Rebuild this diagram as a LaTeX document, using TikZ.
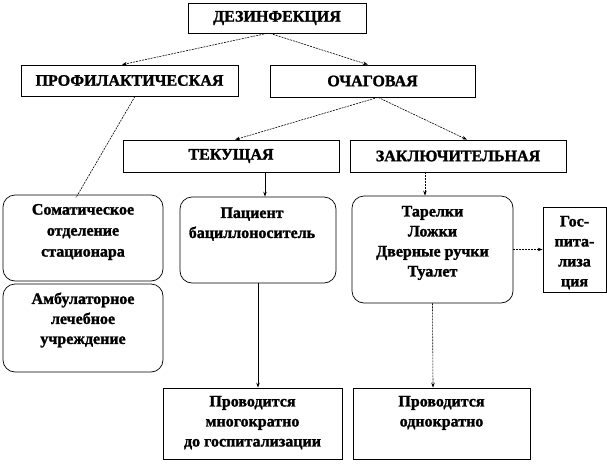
\documentclass[tikz,border=0pt]{standalone}
\usepackage{fontspec}
\setmainfont{Liberation Serif}[BoldFeatures={FakeBold=1.5}]
\usetikzlibrary{arrows.meta}
\newcommand\mybox[4]{\parbox[c][#2pt][t]{#1pt}{\centering\vspace*{#3pt}#4\par}}
\begin{document}
\begin{tikzpicture}[x=1pt,y=-1pt,
 bx/.style={draw, line width=0.7pt, inner sep=0pt, font=\fontsize{16}{20}\selectfont\bfseries},
 rbx/.style={bx, rounded corners=12pt},
 conn/.style={line width=0.6pt, dash pattern=on 2pt off 1pt},
 solidc/.style={line width=0.7pt},
 arr/.style={-{Stealth[length=5pt,width=3.5pt]}},
]
\useasboundingbox (0,0) rectangle (607,463);

\node[bx, minimum width=178pt, minimum height=30pt] (dez) at (277,18) {ДЕЗИНФЕКЦИЯ};
\node[bx, minimum width=217pt, minimum height=31pt] (prof) at (129.5,80.5) {ПРОФИЛАКТИЧЕСКАЯ};
\node[bx, minimum width=205pt, minimum height=32pt] (ochag) at (372.5,81) {ОЧАГОВАЯ};
\node[bx, minimum width=216pt, minimum height=32pt] (tek) at (231,156) {ТЕКУЩАЯ};
\node[bx, minimum width=216pt, minimum height=32pt] (zakl) at (458,156) {ЗАКЛЮЧИТЕЛЬНАЯ};

\node[rbx] (somat) at (83,238) {\mybox{160}{86}{9}{Соматическое\\[1pt]отделение\\[1pt]стационара}};
\node[rbx] (ambul) at (83,328) {\mybox{160}{88}{8.5}{Амбулаторное\\лечебное\\учреждение}};
\node[rbx] (pac) at (258,240) {\mybox{156}{86}{10.5}{\hspace*{-12pt}Пациент\\\hspace*{-12pt}бациллоноситель}};
\node[rbx] (tar) at (432.5,249.5) {\mybox{161}{107}{10}{Тарелки\\Ложки\\Дверные ручки\\Туалет}};
\node[bx] (gos) at (574.5,249.5) {\mybox{63}{85}{9}{Гос-\\пита-\\лиза\\ция}};
\node[bx] (mnog) at (252.5,423.5) {\mybox{179}{71}{8}{Проводится\\многократно\\до госпитализации}};
\node[bx] (odno) at (441.5,423.5) {\mybox{177}{71}{8}{Проводится\\однократно}};

\draw[conn,arr] ([xshift=-10pt]dez.south) -- ([xshift=-7.5pt]prof.north);
\draw[conn,arr] ([xshift=-7pt]dez.south) -- ([xshift=-4.5pt]ochag.north);
\draw[conn,arr] ([xshift=5.5pt]ochag.south) -- ([xshift=4pt]tek.north);
\draw[conn,arr] ([xshift=5.5pt]ochag.south) -- ([xshift=9pt]zakl.north);
\draw[conn] ([xshift=5.5pt]prof.south) -- ([xshift=-7pt,yshift=-3pt]somat.north);
\draw[solidc,arr] ([xshift=34pt]tek.south) -- ([xshift=7pt]pac.north);
\draw[conn,arr] ([xshift=-33pt]zakl.south) -- ([xshift=-7.5pt]tar.north);
\draw[conn,arr] (tar.east) -- (gos.west);
\draw[solidc,arr] (pac.south) -- ([xshift=5.5pt]mnog.north);
\draw[conn,arr] (tar.south) -- ([xshift=-8.5pt]odno.north);
\end{tikzpicture}
\end{document}
